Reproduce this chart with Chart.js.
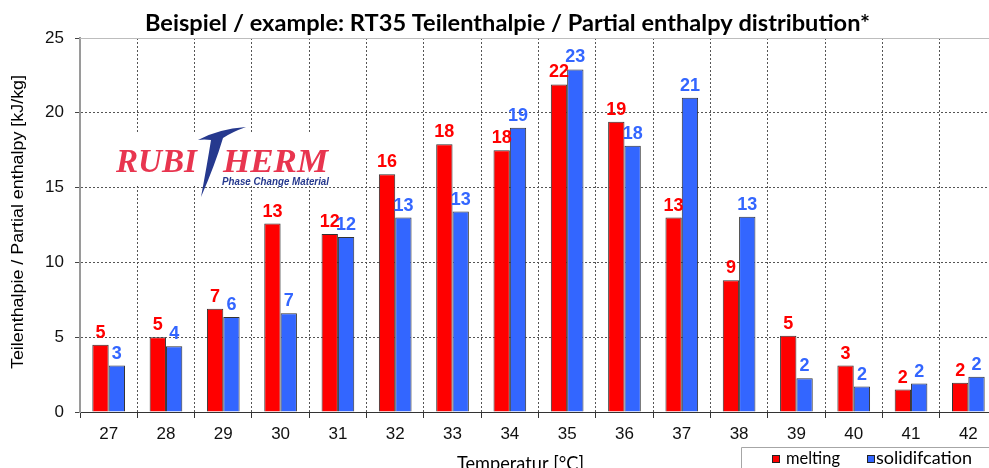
<!DOCTYPE html>
<html><head><meta charset="utf-8">
<script src="https://cdn.jsdelivr.net/npm/chart.js@4"></script>
<style>html,body{margin:0;padding:0;overflow:hidden;background:#fff;width:989px;height:468px}canvas{display:block}</style>
</head><body><canvas id="c" width="1000" height="468"></canvas>
<script>
const categories = ['27','28','29','30','31','32','33','34','35','36','37','38','39','40','41','42'];
const melting = [4.5,5.0,6.9,12.6,11.9,15.9,17.9,17.5,21.9,19.4,13.0,8.8,5.1,3.1,1.5,1.95];
const solidification = [3.1,4.4,6.35,6.6,11.7,13.0,13.4,19.0,22.9,17.8,21.0,13.05,2.25,1.7,1.9,2.35];
const yTicks = [0,5,10,15,20,25];
const seriesNames = ['melting','solidifcation'];
const titleText = 'Beispiel / example: RT35 Teilenthalpie / Partial enthalpy distribution*';
const xTitle = 'Temperatur [°C]';
const yTitle = 'Teilenthalpie / Partial enthalpy [kJ/kg]';

const RED = '#FF0000', BLUE = '#3366FF';

function fitText(ctx, text, x, y, w, align) {
  const m = ctx.measureText(text).width;
  const s = w / m;
  ctx.save();
  ctx.textAlign = 'left';
  let x0 = x;
  if (align === 'center') x0 = x - w / 2;
  ctx.translate(x0, y);
  ctx.scale(s, 1);
  ctx.fillText(text, 0, 0);
  ctx.restore();
}

const decor = {
  id: 'decor',
  beforeDatasetsDraw(chart) {
    const ctx = chart.ctx, a = chart.chartArea;
    // top solid line
    ctx.save();
    ctx.strokeStyle = '#bdbdbd'; ctx.lineWidth = 1;
    ctx.beginPath(); ctx.moveTo(a.left, Math.round(a.top) + 0.5); ctx.lineTo(a.right, Math.round(a.top) + 0.5); ctx.stroke();
    // logo
    ctx.fillStyle = '#fff';
    ctx.fillRect(104, 133, 242, 53);
    ctx.fillStyle = '#E8354F';
    ctx.font = 'italic bold 34px "Liberation Serif"';
    ctx.textBaseline = 'alphabetic';
    fitText(ctx, 'RUBI', 116, 172, 81, 'left');
    fitText(ctx, 'HERM', 223, 172, 105, 'left');
    ctx.fillStyle = '#26398E';
    ctx.beginPath();
    ctx.moveTo(198, 140);
    ctx.quadraticCurveTo(218, 129, 246, 127);
    ctx.quadraticCurveTo(232, 132, 223, 138);
    ctx.quadraticCurveTo(215, 165, 201, 197);
    ctx.quadraticCurveTo(207, 165, 211, 140);
    ctx.quadraticCurveTo(204, 139, 198, 140);
    ctx.closePath();
    ctx.fill();
    ctx.font = 'italic bold 10.5px "Liberation Sans"';
    fitText(ctx, 'Phase Change Material', 222, 184.5, 107, 'left');
    ctx.restore();
  },
  afterDatasetsDraw(chart) {
    const ctx = chart.ctx;
    ctx.save();
    ctx.font = 'bold 18px "Liberation Sans"';
    ctx.textAlign = 'center';
    ctx.textBaseline = 'alphabetic';
    chart.data.datasets.forEach((ds, di) => {
      const meta = chart.getDatasetMeta(di);
      ctx.fillStyle = di === 0 ? RED : BLUE;
      meta.data.forEach((el, i) => {
        ctx.fillText(String(Math.round(ds.data[i])), el.x, el.y - 7);
      });
    });
    ctx.restore();
  },
  afterDraw(chart) {
    const ctx = chart.ctx;
    ctx.save();
    ctx.fillStyle = '#000';
    ctx.textBaseline = 'alphabetic';
    ctx.font = 'bold 22px Lato';
    fitText(ctx, titleText, 507.5, 31, 725, 'center');
    ctx.font = '20px Lato';
    fitText(ctx, xTitle, 457, 469.5, 127, 'left');
    // y title
    ctx.font = '16px "Liberation Sans"';
    ctx.save();
    ctx.translate(23, 222);
    ctx.rotate(-Math.PI / 2);
    fitText(ctx, yTitle, 0, 0, 294, 'center');
    ctx.restore();
    // legend
    ctx.strokeStyle = '#a6a6a6'; ctx.lineWidth = 1;
    ctx.beginPath(); ctx.moveTo(741.5, 468); ctx.lineTo(741.5, 447.5); ctx.lineTo(1000, 447.5); ctx.stroke();
    const items = [[RED, 772, 786, 54], [BLUE, 867, 876, 96]];
    ctx.font = '18px Lato';
    items.forEach((it, k) => {
      ctx.fillStyle = it[0];
      ctx.fillRect(it[1], 455, 8, 8);
      ctx.strokeStyle = '#222';
      ctx.strokeRect(it[1] + 0.5, 455.5, 7, 7);
      ctx.fillStyle = '#000';
      fitText(ctx, seriesNames[k], it[2], 464, it[3], 'left');
    });
    ctx.restore();
  }
};

new Chart(document.getElementById('c'), {
  type: 'bar',
  data: {
    labels: categories,
    datasets: [
      { label: seriesNames[0], data: melting, backgroundColor: RED, borderColor: '#333', borderWidth: 1, categoryPercentage: 0.57, barPercentage: 1 },
      { label: seriesNames[1], data: solidification, backgroundColor: BLUE, borderColor: '#333', borderWidth: 1, categoryPercentage: 0.57, barPercentage: 1 }
    ]
  },
  options: {
    responsive: false,
    animation: false,
    events: [],
    layout: { padding: { top: 38, right: 3, left: 0, bottom: 0 } },
    plugins: { legend: { display: false }, title: { display: false }, tooltip: { enabled: false } },
    scales: {
      x: {
        afterFit: s => { s.height = 56; },
        grid: { offset: true, color: '#555', tickColor: '#333', tickLength: 6, tickBorderDash: [] },
        border: { color: '#333', width: 1, dash: [2, 2] },
        ticks: { font: { family: 'Liberation Sans', size: 17 }, color: '#111', padding: 6 }
      },
      y: {
        min: 0, max: 25,
        afterFit: s => { s.width = 80; },
        afterBuildTicks: s => { s.ticks = yTicks.map(v => ({ value: v })); },
        grid: { color: c => (c.tick && c.tick.value === 25) || (c.tick && c.tick.value === 0) ? 'rgba(0,0,0,0)' : '#555', tickColor: '#444', tickLength: 5, tickBorderDash: [] },
        border: { color: '#9a9a9a', width: 2, dash: [2, 2] },
        ticks: { font: { family: 'Liberation Sans', size: 17 }, color: '#111', padding: 11 }
      }
    }
  },
  plugins: [decor]
});
</script>
</body></html>
